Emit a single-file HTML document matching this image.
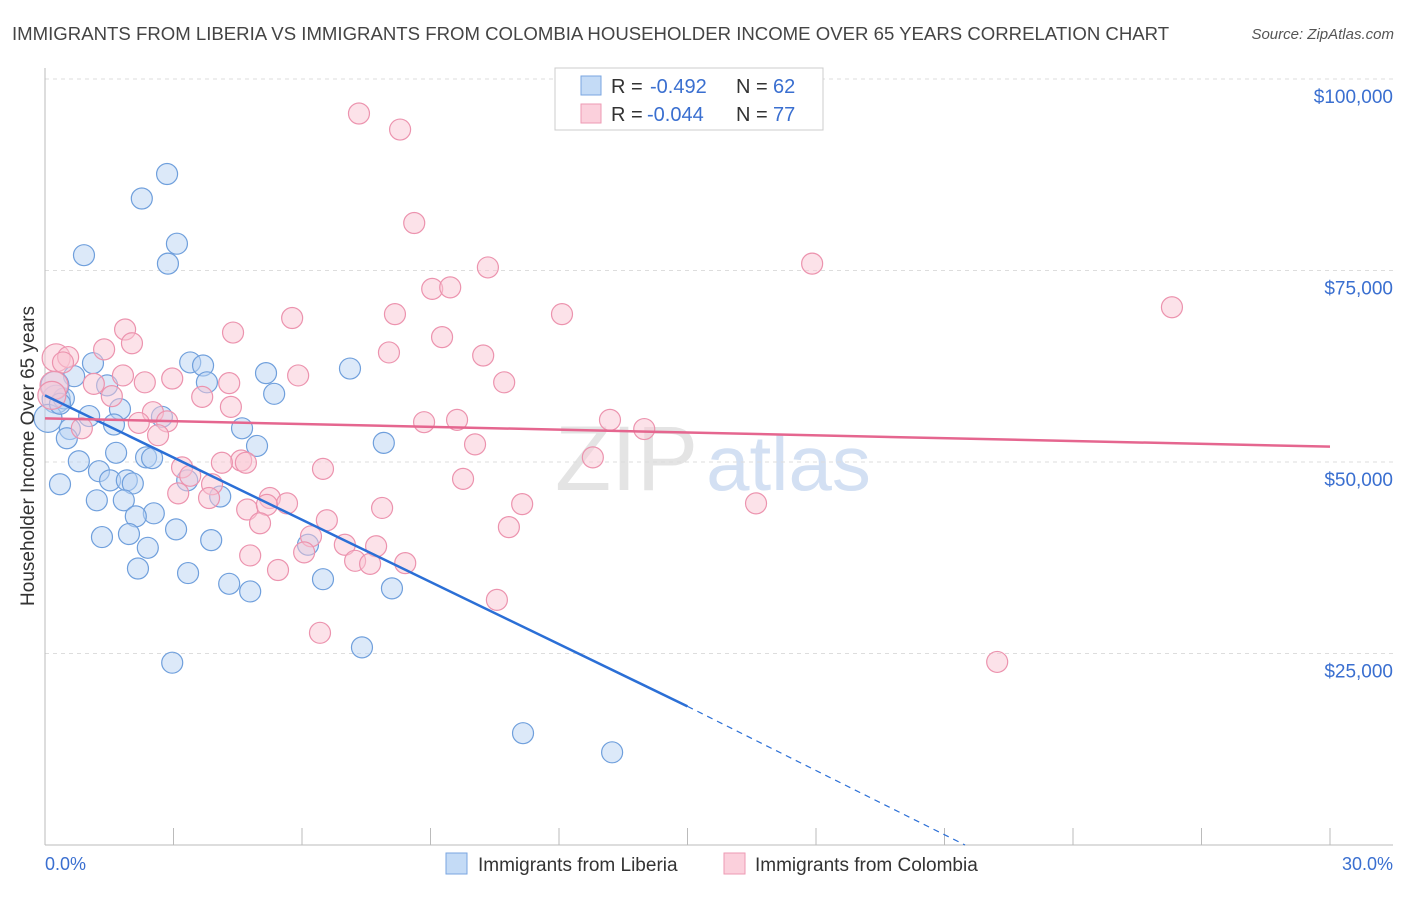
<!DOCTYPE html>
<html><head><meta charset="utf-8"><style>
body{margin:0;background:#fff;font-family:"Liberation Sans",sans-serif;}
svg text{font-family:"Liberation Sans",sans-serif;}
</style></head><body>
<svg id="chart" width="1406" height="892" xmlns="http://www.w3.org/2000/svg">
<text x="12" y="40" font-size="18.6" fill="#444">IMMIGRANTS FROM LIBERIA VS IMMIGRANTS FROM COLOMBIA HOUSEHOLDER INCOME OVER 65 YEARS CORRELATION CHART</text>
<text x="1394" y="39" font-size="15" fill="#555" font-style="italic" text-anchor="end">Source: ZipAtlas.com</text>
<text x="555" y="490" font-size="92" fill="#e4e4e4" font-family="Liberation Serif">ZIP<tspan fill="#d3e0f3" font-family="Liberation Sans" font-size="78" dx="8">atlas</tspan></text>
<g id="grid"></g>
<g id="axes"></g>
<g id="blue"></g>
<g id="pink"></g>
<g id="trends"></g>
<text transform="translate(34,456) rotate(-90)" font-size="19" fill="#333" text-anchor="middle">Householder Income Over 65 years</text>
<text x="45" y="870" font-size="18" fill="#3a6fd0">0.0%</text>
<text x="1393" y="870" font-size="18" fill="#3a6fd0" text-anchor="end">30.0%</text>
<g>
<rect x="555" y="68" width="268" height="62" fill="#fff" stroke="#ccc"/>
<rect x="581" y="76" width="20" height="19" fill="#c4dbf6" stroke="#7aa6e0"/>
<rect x="581" y="104" width="20" height="19" fill="#fbd0dc" stroke="#ee9ab3"/>
<text x="611" y="93" font-size="20" fill="#333">R =</text>
<text x="650" y="93" font-size="20" fill="#3a6fd0">-0.492</text>
<text x="736" y="93" font-size="20" fill="#333">N =</text>
<text x="773" y="93" font-size="20" fill="#3a6fd0">62</text>
<text x="611" y="121" font-size="20" fill="#333">R =</text>
<text x="647" y="121" font-size="20" fill="#3a6fd0">-0.044</text>
<text x="736" y="121" font-size="20" fill="#333">N =</text>
<text x="773" y="121" font-size="20" fill="#3a6fd0">77</text>
</g>
<g>
<rect x="446" y="853" width="21" height="21" fill="#c4dbf6" stroke="#7aa6e0"/>
<text x="478" y="871" font-size="19" fill="#333">Immigrants from Liberia</text>
<rect x="724" y="853" width="21" height="21" fill="#fbd0dc" stroke="#ee9ab3"/>
<text x="755" y="871" font-size="19" fill="#333">Immigrants from Colombia</text>
</g>
</svg>
<script>
const yTicks=[25000,50000,75000,100000];
const yTickLabels=["$25,000","$50,000","$75,000","$100,000"];
const xTicks=[0,3,6,9,12,15,18,21,24,27,30];
const liberiaX=[2.85,2.26,3.08,0.91,2.87,3.39,3.69,1.12,0.68,3.78,1.45,5.16,5.35,7.12,0.26,0.44,1.75,1.03,2.73,1.61,0.07,4.60,0.58,0.51,7.91,4.95,1.66,2.36,2.50,0.79,1.26,0.35,1.52,1.91,2.05,3.32,4.09,1.21,1.84,2.54,2.12,3.06,1.33,1.96,3.88,2.40,6.14,2.17,3.34,6.49,4.30,4.79,8.10,7.40,2.97,11.16,13.24,0.23,0.35];
const liberiaY=[87600,84400,78500,77000,75900,63000,62600,62900,61200,60400,60000,61600,58900,62200,58200,58300,56900,56000,55900,54900,55700,54400,54300,53100,52500,52100,51200,50600,50500,50100,48800,47100,47600,47600,47200,47600,45500,45000,45000,43300,42900,41200,40200,40600,39800,38800,39200,36100,35500,34700,34100,33100,33500,25800,23800,14600,12100,60000,57600];
const colombiaX=[7.33,8.29,8.62,10.34,17.91,9.04,9.46,26.31,5.77,8.17,12.07,1.87,4.39,9.27,2.03,1.38,8.03,10.23,0.26,0.54,0.42,5.91,10.72,0.21,1.14,1.82,2.33,2.97,1.56,4.30,3.67,4.34,2.52,2.85,8.85,9.62,13.19,13.99,0.86,2.19,2.64,10.04,12.79,4.58,4.69,4.13,3.20,6.49,3.39,9.76,3.90,3.11,3.83,5.25,5.65,11.14,16.60,4.72,5.18,7.87,6.58,5.02,10.83,6.21,7.00,6.05,7.73,4.79,7.24,7.59,8.41,5.44,10.55,6.42,22.23,0.16];
const colombiaY=[95500,93400,81200,75400,75900,72600,72800,70200,68800,69300,69300,67300,66900,66300,65500,64700,64300,63900,63600,63700,63000,61300,60400,60000,60200,61300,60400,60900,58600,60300,58500,57200,56500,55300,55200,55500,55500,54300,54400,55100,53500,52300,50600,50200,49900,49900,49300,49100,48200,47800,47100,45900,45300,45300,44600,44500,44600,43800,44400,44000,42400,42000,41500,40300,39200,38200,39000,37800,37100,36700,36800,35900,32000,27700,23900,58700];
const liberiaTrendX=[0,15];
const liberiaTrendY=[58700,18100];
const liberiaDashX=[15,21.48];
const liberiaDashY=[18100,0];
const colombiaTrendX=[0,30];
const colombiaTrendY=[55700,52000];

const NS="http://www.w3.org/2000/svg";
const sx=v=>45+v*(1285/30);
const sy=v=>845-v*(191.5/25000);
function mk(tag,attrs,parent){const e=document.createElementNS(NS,tag);for(const k in attrs)e.setAttribute(k,attrs[k]);parent.appendChild(e);return e;}
const grid=document.getElementById('grid'),axes=document.getElementById('axes');
yTicks.forEach((t,i)=>{
  const l=mk('line',{x1:45,x2:1393,y1:sy(t),y2:sy(t),stroke:'#ddd','stroke-dasharray':'4,4'},grid);
  
  
  const tx=mk('text',{x:1393,y:sy(t)+24,'font-size':19,fill:'#3a6fd0','text-anchor':'end'},axes);
  tx.textContent=yTickLabels[i];
  
  
});
const la=mk('line',{x1:45,x2:45,y1:68,y2:845,stroke:'#bbb'},axes);


const ba=mk('line',{x1:45,x2:1393,y1:845,y2:845,stroke:'#bbb'},axes);


xTicks.forEach(t=>{
  const l=mk('line',{x1:sx(t),x2:sx(t),y1:828,y2:845,stroke:'#bbb'},axes);
  
  
});
function dots(xs,ys,g,fill,stroke,name){
  xs.forEach((x,i)=>{
    const c=mk('circle',{cx:sx(x),cy:sy(ys[i]),r:(x<0.3?14:10.5),fill:fill,'fill-opacity':0.5,stroke:stroke,'stroke-width':1.2},g);
    
    
  });
}
dots(liberiaX,liberiaY,document.getElementById('blue'),'#b9d3f3','#6f9fdc','liberia-point');
dots(colombiaX,colombiaY,document.getElementById('pink'),'#f9c6d4','#ec93ae','colombia-point');
const tr=document.getElementById('trends');
const t1=mk('line',{x1:sx(liberiaTrendX[0]),y1:sy(liberiaTrendY[0]),x2:sx(liberiaTrendX[1]),y2:sy(liberiaTrendY[1]),stroke:'#2b6fd6','stroke-width':2.5},tr);


const t2=mk('line',{x1:sx(liberiaDashX[0]),y1:sy(liberiaDashY[0]),x2:sx(liberiaDashX[1]),y2:sy(liberiaDashY[1]),stroke:'#2b6fd6','stroke-width':1.2,'stroke-dasharray':'6,5'},tr);


const t3=mk('line',{x1:sx(colombiaTrendX[0]),y1:sy(colombiaTrendY[0]),x2:sx(colombiaTrendX[1]),y2:sy(colombiaTrendY[1]),stroke:'#e5668f','stroke-width':2.5},tr);


</script>
</body></html>
